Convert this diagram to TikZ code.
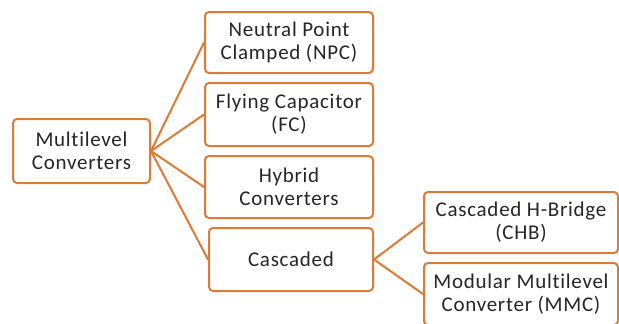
\documentclass[tikz,border=0pt]{standalone}
\usepackage{fontspec}
\setmainfont{Carlito}[Ligatures=NoCommon,LetterSpace=3.5]
\usepackage{xcolor}
\usetikzlibrary{positioning}
\definecolor{myorange}{HTML}{DD7A36}
\definecolor{mytext}{HTML}{262626}

\begin{document}
\begin{tikzpicture}[
		x=1pt,
		y=-1pt,
		line cap=round,
		line join=round,
		typebox/.style={draw=myorange,line width=2pt,rounded corners=4pt,fill=white,
			align=center,text=mytext,font=\fontsize{21}{23}\selectfont,inner sep=2pt},
		branch/.style={draw=myorange,line width=2pt}
	]
	
	% Page frame
	\useasboundingbox (0,0) rectangle (619,324);
	\clip (0,0) rectangle (619,324);
	
	% Root of the tree
	\node[typebox,minimum width=137pt,minimum height=64pt] (root) at (81.5,151)
	{Multilevel\\Converters};
	
	% Converter families
	\node[typebox,minimum width=168pt,minimum height=61pt] (npc) at (289,42.5)
	{Neutral Point\\Clamped (NPC)};
	\node[typebox,minimum width=168pt,minimum height=63pt] (fc) at (289,114.5)
	{Flying Capacitor\\(FC)};
	\node[typebox,minimum width=168pt,minimum height=62pt] (hybrid) at (289,187)
	{Hybrid\\Converters};
	\node[typebox,minimum width=164pt,minimum height=63pt] (cascaded) at (291,259.5)
	{Cascaded};
	
	% Cascaded sub-types
	\node[typebox,minimum width=194pt,minimum height=61pt] (chb) at (521,222.5)
	{Cascaded H-Bridge\\(CHB)};
	\node[typebox,minimum width=194pt,minimum height=62pt] (mmc) at (521,294)
	{Modular Multilevel\\Converter (MMC)};
	
	% Branches
	\draw[branch] (root.east) -- (npc.west);
	\draw[branch] (root.east) -- (fc.west);
	\draw[branch] (root.east) -- (hybrid.west);
	\draw[branch] (root.east) -- (cascaded.west);
	\draw[branch] (cascaded.east) -- (chb.west);
	\draw[branch] (cascaded.east) -- (mmc.west);
	
\end{tikzpicture}
\end{document}
